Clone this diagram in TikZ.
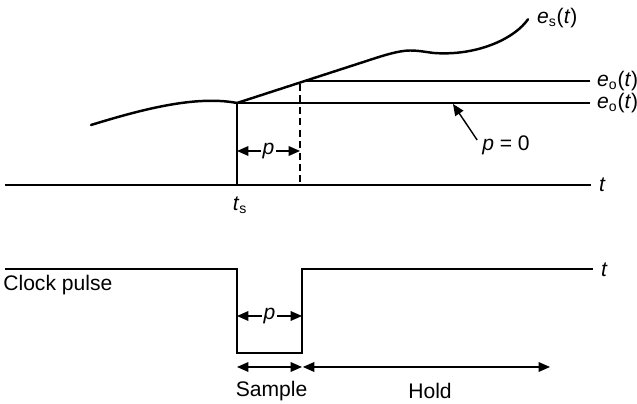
\documentclass[tikz,border=0pt]{standalone}
\usepackage{fontspec}
\setmainfont{Liberation Sans}
\usetikzlibrary{positioning,arrows.meta,calc}

\begin{document}
\begin{tikzpicture}[
  x=0.02cm, y=-0.02cm,
  font=\fontsize{12}{14}\selectfont,
  every node/.style={inner sep=1pt},
  axis/.style={line width=0.8pt},
  signal/.style={line width=1.4pt, line cap=round, line join=round},
  arr/.style={-{Triangle[length=6.5pt,width=5.5pt]}, line width=0.8pt},
  dbl/.style={{Triangle[length=6.5pt,width=5.5pt]}-{Triangle[length=6.5pt,width=5.5pt]}, line width=0.8pt}
]
\useasboundingbox (0,0) rectangle (637,404);

% Sample instants on the time axis
\coordinate (axstart) at (5,185);
\coordinate (axend)   at (591,185);
\coordinate (ts)      at (237,185);
\coordinate (tp)      at (300,185);
\coordinate (hold0)   at (237,103);
\coordinate (holdp)   at (306,81);
\coordinate (dashtop) at (300,84);
\coordinate (pztip)   at (453,104);

% Labels
\node[anchor=west] (taxis) at (597,185) {\textit{t}};
\node (tslab) at (240,205) {\textit{t}\textsubscript{s}};
\node[anchor=west] (eslab) at (535,18) {\textit{e}\textsubscript{s}(\textit{t})};
\node[anchor=west] (eoone) at (595,81) {\textit{e}\textsubscript{o}(\textit{t})};
\node[anchor=west] (eotwo) at (595,103) {\textit{e}\textsubscript{o}(\textit{t})};
\node (pzero) at (506,145) {\textit{p} = 0};
\node (pone) at (268.5,151) {\textit{p}};

% Input signal
\draw[signal] (91,125) .. controls (140,110) and (195,95) .. (hold0);
\draw[signal] (hold0) -- (365,61.5)
  .. controls (380,56.6) and (398,50.5) .. (410,50.5)
  .. controls (422,50.5) and (430,53.3) .. (440,53.3)
  .. controls (480,54.5) and (515,38) .. (528,19.3);

% Held outputs and axis
\draw[axis] (axstart) -- (axend);
\draw[axis] (hold0) -- (ts);
\draw[axis, dashed, dash pattern=on 4pt off 2.5pt] (dashtop) -- (tp);
\draw[axis] (holdp) -- ([xshift=-3pt]holdp -| eoone.west);
\draw[axis] (hold0) -- ([xshift=-3pt]hold0 -| eotwo.west);
\draw[arr] (pone.west) -- (pone.west -| ts);
\draw[arr] (pone.east) -- (pone.east -| tp);
\draw[arr] ([shift={(-3,-5)}]pzero.west) -- (pztip);

% Clock pulse
\coordinate (clkstart) at (5,269);
\coordinate (fall)     at (237,269);
\coordinate (lowa)     at (237,353);
\coordinate (lowb)     at (302,353);
\coordinate (rise)     at (302,269);
\coordinate (clkend)   at (593,269);
\node[anchor=west, inner sep=0pt] (clklab) at (3,285) {Clock pulse};
\node[anchor=west] (tclk) at (599,270) {\textit{t}};
\node (ptwo) at (269.5,316) {\textit{p}};
\draw[axis] (clkstart) -- (fall) -- (lowa) -- (lowb) -- (rise) -- (clkend);
\draw[arr] (ptwo.west) -- (ptwo.west -| lowa);
\draw[arr] (ptwo.east) -- (ptwo.east -| lowb);

% Sample and hold intervals
\coordinate (smpa) at (237,367);
\coordinate (smpb) at (302,367);
\coordinate (hldb) at (550,367);
\node (smplab) at (271.5,391) {Sample};
\node (hldlab) at (430,391) {Hold};
\draw[dbl] (smpa) -- (smpb);
\draw[dbl] ([xshift=0.5pt]smpb) -- (hldb);

\end{tikzpicture}
\end{document}
